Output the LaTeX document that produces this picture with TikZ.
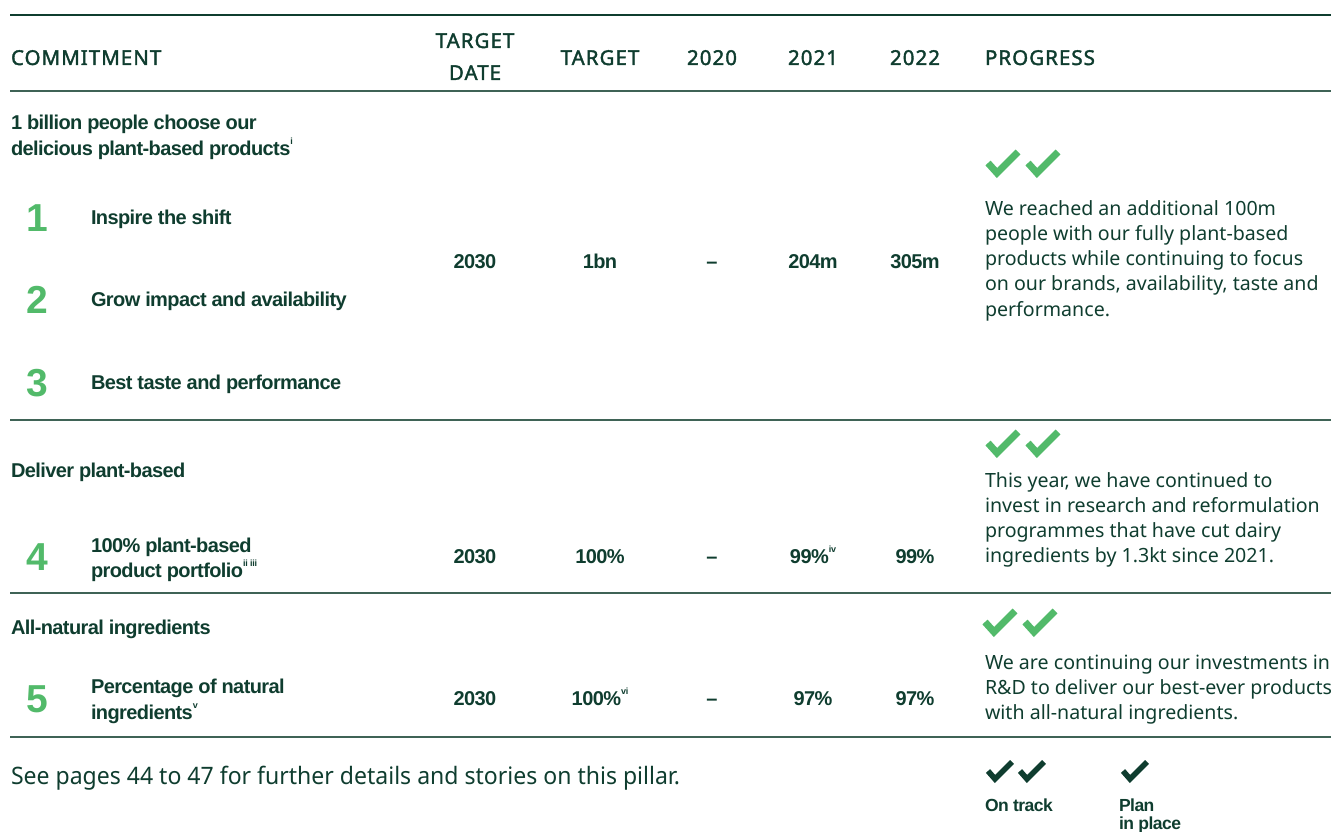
\documentclass[tikz,border=0pt]{standalone}
\usepackage{fontspec}
\setmainfont{Noto Sans}
\newfontfamily\hdfont{Noto Sans}[LetterSpace=5, FakeBold=1.8]
\newfontfamily\footf{Noto Sans}[FakeStretch=0.96]
\newfontfamily\cbf{Liberation Sans}[LetterSpace=-3, Ligatures=TeX]
\newfontfamily\numf{Liberation Sans}
\definecolor{ink}{HTML}{0F3D2F}
\definecolor{leaf}{HTML}{52BA6A}
\definecolor{rulec}{HTML}{3F6356}
\newcommand\sups[1]{\raisebox{0.55em}{\fontsize{9}{9}\selectfont #1}}
\tikzset{
  txt/.style={inner sep=0pt, outer sep=0pt, text=ink},
  body/.style={txt, font=\fontsize{19.6}{25.3}\selectfont, anchor=base west, align=left},
  foot/.style={txt, font=\footf\fontsize{24}{28}\selectfont, anchor=base west},
  hd/.style={txt, font=\hdfont\fontsize{20.5}{31}\selectfont, anchor=base},
  cb/.style={txt, font=\cbf\bfseries\fontsize{20}{25.8}\selectfont, anchor=base west, align=left},
  val/.style={txt, font=\cbf\bfseries\fontsize{20}{25}\selectfont, anchor=base},
  bignum/.style={txt, font=\numf\bfseries\fontsize{39}{39}\selectfont, text=leaf, anchor=base},
  legend/.style={txt, font=\cbf\bfseries\fontsize{17.5}{18.5}\selectfont, anchor=base west, align=left},
  rule/.style={draw=rulec, line width=1.2pt},
  toprule/.style={draw=ink, line width=1.6pt},
  chk/.pic={\draw[line width=7pt, miter limit=10, line join=miter] (-9,-10) -- (0,0) -- (21,-21);},
  chks/.pic={\draw[line width=5.6pt, miter limit=10, line join=miter] (-7,-8) -- (0,0) -- (17,-17);}
}
\begin{document}
\begin{tikzpicture}[x=1pt, y=-1pt]
\useasboundingbox (0,0) rectangle (1331,832);
% rules
\coordinate (r0l) at (10,15);  \coordinate (r0r) at (1331,15);
\coordinate (r1l) at (10,91);  \coordinate (r1r) at (1331,91);
\coordinate (r2l) at (10,420); \coordinate (r2r) at (1331,420);
\coordinate (r3l) at (10,593); \coordinate (r3r) at (1331,593);
\coordinate (r4l) at (10,737); \coordinate (r4r) at (1331,737);
\draw[toprule] (r0l) -- (r0r);
\draw[rule] (r1l) -- (r1r);
\draw[rule] (r2l) -- (r2r);
\draw[rule] (r3l) -- (r3r);
\draw[rule] (r4l) -- (r4r);
% header
\node[hd, anchor=base west] (hcom) at (11,65) {COMMITMENT};
\node[hd] (hdate1) at (475,48) {TARGET};
\node[hd] (hdate2) at (475,80) {DATE};
\node[hd] (htar) at (600,65) {TARGET};
\node[hd] (h20) at (712,65) {2020};
\node[hd] (h21) at (813,65) {2021};
\node[hd] (h22) at (915,65) {2022};
\node[hd, anchor=base west] (hprog) at (985,65) {PROGRESS};
% section 1
\node[cb] (s1a) at (11,130) {1 billion people choose our};
\node[cb] (s1b) at (11,156) {delicious plant-based products\sups{i}};
\node[bignum] (n1) at (37,231) {1};
\node[bignum] (n2) at (37,313) {2};
\node[bignum] (n3) at (37,396) {3};
\node[cb] (c1) at (91,224) {Inspire the shift};
\node[cb] (c2) at (91,306) {Grow impact and availability};
\node[cb] (c3) at (91,389) {Best taste and performance};
\node[val] (v1a) at (475,268) {2030};
\node[val] (v1b) at (600,268) {1bn};
\node[val] (v1c) at (712,268) {\textendash};
\node[val] (v1d) at (813,268) {204m};
\node[val] (v1e) at (915,268) {305m};
\pic[draw=leaf] at (997,173) {chk};
\pic[draw=leaf] at (1037,173) {chk};
\node[body] (p1) at (985,316.2) {We reached an additional 100m\\people with our fully plant-based\\products while continuing to focus\\on our brands, availability, taste and\\performance.};
% section 2
\node[cb] (s2) at (11,477) {Deliver plant-based};
\node[bignum] (n4) at (37,570) {4};
\node[cb] (c4a) at (91,552) {100\% plant-based};
\node[cb] (c4b) at (91,577) {product portfolio\sups{ii iii}};
\node[val] (v2a) at (475,563) {2030};
\node[val] (v2b) at (600,563) {100\%};
\node[val] (v2c) at (712,563) {\textendash};
\node[val] (v2d) at (813,563) {99\%\sups{iv}};
\node[val] (v2e) at (915,563) {99\%};
\pic[draw=leaf] at (997,453) {chk};
\pic[draw=leaf] at (1037,453) {chk};
\node[body] (p2) at (985,562.9) {This year, we have continued to\\invest in research and reformulation\\programmes that have cut dairy\\ingredients by 1.3kt since 2021.};
% section 3
\node[cb] (s3) at (11,634) {All-natural ingredients};
\node[bignum] (n5) at (37,712) {5};
\node[cb] (c5a) at (91,693) {Percentage of natural};
\node[cb] (c5b) at (91,719) {ingredients\sups{v}};
\node[val] (v3a) at (475,705) {2030};
\node[val] (v3b) at (600,705) {100\%\sups{vi}};
\node[val] (v3c) at (712,705) {\textendash};
\node[val] (v3d) at (813,705) {97\%};
\node[val] (v3e) at (915,705) {97\%};
\pic[draw=leaf] at (994,632) {chk};
\pic[draw=leaf] at (1034,632) {chk};
\node[body] (p3) at (985,719.6) {We are continuing our investments in\\R\&D to deliver our best-ever products\\with all-natural ingredients.};
% footer
\node[foot] (foot) at (11,784) {See pages 44 to 47 for further details and stories on this pillar.};
\pic[draw=ink] at (995,779) {chks};
\pic[draw=ink] at (1027,779) {chks};
\pic[draw=ink] at (1130,779) {chks};
\node[legend] (l1) at (985,811) {On track};
\node[legend] (l2) at (1119,829.5) {Plan\\in place};
\end{tikzpicture}
\end{document}
